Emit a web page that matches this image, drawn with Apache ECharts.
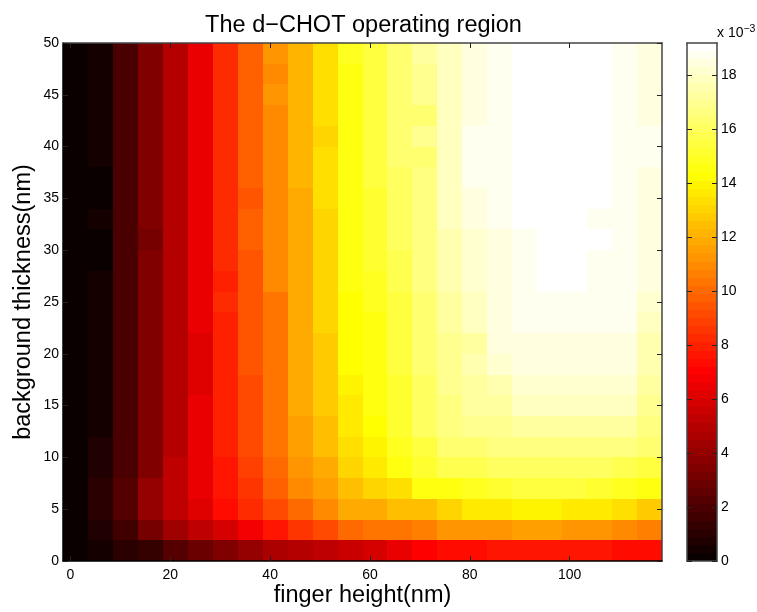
<!DOCTYPE html>
<html><head><meta charset="utf-8">
<style>html,body{margin:0;padding:0;background:#fff}#c{width:757px;height:612px}</style>
<script src="https://cdn.jsdelivr.net/npm/echarts@6/dist/echarts.min.js"></script>
</head><body><div id="c"></div>
<script>
const fingerHeight = [1,6,11,16,21,26,31,36,41,46,51,56,61,66,71,76,81,86,91,96,101,106,111,116];
const backgroundThickness = [1,3,5,7,9,11,13,15,17,19,21,23,25,27,29,31,33,35,37,39,41,43,45,47,49];
const xTicks = [0,20,40,60,80,100];
const yTicks = [0,5,10,15,20,25,30,35,40,45,50];
const barTicks = [0,2,4,6,8,10,12,14,16,18];
const titleText = 'The d\u2212CHOT operating region';
const xName = 'finger height(nm)';
const yName = 'background thickness(nm)';
// values in units of 1e-3, bottom row first
const r00 = [.2,.3,.9,1.4,2.1,2.7,3.3,3.9,4.5,4.8,5.3,5.5,5.8,6.5,6.9,7.2,7.3,7.5,7.6,7.6,7.5,7.5,7.4,7.3];
const r01 = [.1,.7,1.7,3.0,4.3,5.1,5.9,6.6,7.5,8.4,9.0,10.0,10.3,10.4,10.7,11.1,11.3,11.3,11.6,11.6,11.3,11.2,11.0,10.7];
const r02 = [.1,1.1,2.2,3.9,5.1,6.0,7.2,8.1,9.0,10.0,10.8,11.7,11.9,12.3,12.5,12.9,13.6,13.6,13.9,13.9,13.7,13.6,13.3,12.7];
const r03 = [.1,.9,2.1,3.9,5.2,6.3,7.5,8.5,9.6,10.8,11.6,12.5,13.0,13.4,14.4,14.6,14.9,15.0,15.3,15.3,15.3,15.2,14.9,14.5];
const r04 = [.1,.7,2.0,3.4,5.1,6.3,7.6,8.9,9.9,11.2,11.9,13.1,13.6,14.4,15.2,15.8,15.8,15.9,16.0,16.0,16.0,16.0,15.8,15.3];
const r05 = [.1,.6,1.9,3.5,5.0,6.3,7.8,9.0,10.2,11.4,12.3,13.3,14.0,14.7,15.5,16.2,16.3,16.5,16.7,16.7,16.7,16.7,16.7,16.2];
const r06 = [.1,.4,1.8,3.4,5.0,6.3,7.9,9.2,10.4,11.6,12.5,13.5,14.3,15.0,15.9,16.5,17.0,17.0,17.3,17.3,17.3,17.3,17.3,16.6];
const r07 = [.1,.4,1.8,3.4,5.0,6.3,7.9,9.2,10.4,11.7,12.6,13.7,14.4,15.1,16.0,16.6,17.1,17.3,17.7,17.7,17.7,17.7,17.7,16.9];
const r08 = [.1,.4,1.8,3.4,4.8,6.2,7.9,9.2,10.4,11.7,12.8,13.9,14.5,15.2,16.1,16.8,17.2,17.6,18.0,18.0,18.0,18.0,18.0,17.1];
const r09 = [.1,.4,1.8,3.4,4.8,6.2,7.9,9.4,10.4,11.7,12.8,14.2,14.5,15.3,16.2,16.9,17.4,18.2,18.3,18.3,18.3,18.3,18.3,17.4];
const r10 = [.1,.4,1.8,3.4,4.8,6.2,7.9,9.4,10.4,11.7,12.8,14.3,14.6,15.3,16.3,17.0,17.3,18.3,18.5,18.5,18.5,18.5,18.5,17.6];
const r11 = [.1,.4,1.8,3.4,5.0,6.5,7.9,9.4,10.4,11.7,13.0,14.3,14.6,15.4,16.3,17.1,17.7,18.5,18.8,18.8,18.8,18.8,18.8,17.9];
const r12 = [.1,.4,1.8,3.4,5.0,6.5,8.1,9.4,10.4,11.9,13.0,14.3,14.7,15.5,16.4,17.2,17.8,18.5,18.8,18.8,18.8,18.8,18.8,18.2];
const r13 = [.1,.4,1.8,3.4,5.0,6.5,7.8,9.4,10.9,11.9,13.0,14.4,14.9,15.6,16.5,17.4,18.1,18.5,18.8,19.1,19.1,18.8,18.8,18.4];
const r14 = [.1,.2,1.8,3.4,5.0,6.5,8.1,9.4,10.9,11.9,13.0,14.4,15.0,15.7,16.5,17.5,18.2,18.5,18.8,19.1,19.1,18.8,18.8,18.4];
const r15 = [.1,.2,1.8,3.1,5.0,6.5,8.1,9.6,10.9,11.9,13.0,14.4,15.1,16.0,16.6,17.5,18.2,18.5,18.8,19.1,19.1,19.1,18.8,18.4];
const r16 = [.1,.4,1.8,3.4,5.0,6.5,8.1,9.6,10.9,11.9,13.0,14.4,15.2,16.0,16.6,17.7,18.3,18.8,19.1,19.1,19.1,18.8,18.8,18.4];
const r17 = [.1,.2,1.8,3.4,5.0,6.5,8.1,9.3,10.9,11.9,13.3,14.4,15.2,16.0,16.6,17.7,18.3,18.8,19.1,19.1,19.1,19.1,18.8,18.4];
const r18 = [.1,.2,1.8,3.4,5.0,6.5,8.1,9.6,10.9,12.2,13.3,14.4,15.3,16.1,16.5,17.7,18.6,18.8,19.1,19.1,19.1,19.1,18.8,18.4];
const r19 = [.1,.4,1.9,3.4,5.0,6.5,8.1,9.6,10.9,12.2,13.3,14.4,15.3,16.2,16.4,17.8,18.6,18.8,19.1,19.1,19.1,19.1,18.8,18.6];
const r20 = [.1,.4,1.9,3.4,5.0,6.5,8.1,9.6,10.9,12.2,13.0,14.4,15.3,16.2,16.8,17.8,18.6,18.8,19.1,19.1,19.1,19.1,18.8,18.6];
const r21 = [.1,.4,1.9,3.4,5.0,6.5,8.1,9.6,10.9,12.2,13.4,14.4,15.3,16.2,16.4,17.8,18.4,18.8,19.1,19.1,19.1,19.1,18.8,18.4];
const r22 = [.1,.4,1.9,3.4,5.0,6.5,8.1,9.6,11.1,12.2,13.4,14.4,15.3,16.2,16.9,17.8,18.4,18.8,19.1,19.1,19.1,19.1,18.8,18.4];
const r23 = [.1,.4,1.9,3.4,5.0,6.5,8.1,9.6,10.8,12.2,13.4,14.4,15.3,16.2,17.0,17.8,18.4,18.8,19.1,19.1,19.1,19.1,18.8,18.4];
const r24 = [.1,.4,1.9,3.4,5.0,6.5,8.1,9.6,11.1,12.2,13.4,14.7,15.3,16.2,17.1,17.8,18.4,18.8,19.1,19.1,19.1,19.1,18.8,18.3];
const rows = [r00,r01,r02,r03,r04,r05,r06,r07,r08,r09,r10,r11,r12,r13,r14,r15,r16,r17,r18,r19,r20,r21,r22,r23,r24];

const cMax = 19.2, nLevels = 64;
function clamp(v){return Math.max(0,Math.min(1,v));}
function hot(v){
  const i = Math.min(nLevels, Math.floor(v/cMax*nLevels)+1);
  const r = clamp(i/24), g = clamp((i-24)/24), b = clamp((i-48)/16);
  return 'rgb('+Math.round(r*255)+','+Math.round(g*255)+','+Math.round(b*255)+')';
}
const cells = [];
rows.forEach((row,j)=>row.forEach((v,i)=>cells.push([fingerHeight[i],backgroundThickness[j],v])));
const levels = [];
for(let k=0;k<nLevels;k++) levels.push([(k)*cMax/nLevels,(k+1)*cMax/nLevels]);

const FONT='"Liberation Sans", Arial, sans-serif';
const lineC='#444';
function rect(api,x0,y0,x1,y1,fill){
  const a=api.coord([x0,y0]), b=api.coord([x1,y1]);
  const X0=Math.round(a[0]),X1=Math.round(b[0]),Y0=Math.round(a[1]),Y1=Math.round(b[1]);
  return {type:'rect',shape:{x:X0,y:Y1,width:X1-X0,height:Y0-Y1},style:{fill:fill,stroke:null},silent:true};
}
const tickStyle={show:true,inside:true,length:5,lineStyle:{color:'#222',width:1}};
const LS=14;
const chart=echarts.init(document.getElementById('c'),null,{renderer:'canvas'});
chart.setOption({
  animation:false,
  backgroundColor:'#fff',
  title:{text:titleText,left:358.5,top:9,textAlign:'center',textStyle:{fontFamily:FONT,fontSize:23.5,fontWeight:'normal',color:'#000'}},
  graphic:[{type:'text',left:717,top:24,z:10,style:{rich:{a:{fontFamily:FONT,fontSize:LS,fill:'#000'},s:{fontFamily:FONT,fontSize:10.5,fill:'#000',verticalAlign:'top',padding:[0,0,8,0]}},text:'{a|x 10}{s|\u22123}'}}],
  grid:[{left:63,top:43,width:599,height:518,outerBoundsMode:'none'},{left:687,top:43,width:30,height:518,outerBoundsMode:'none'}],
  xAxis:[
    {gridIndex:0,z:5,type:'value',min:-1.5,max:118.5,position:'bottom',splitLine:{show:false},
     axisLine:{show:true,onZero:false,lineStyle:{color:'#000',width:1.5}},axisTick:Object.assign({customValues:xTicks},tickStyle),
     axisLabel:{customValues:xTicks,color:'#000',fontFamily:FONT,fontSize:LS,margin:7},
     name:xName,nameLocation:'middle',nameMoveOverlap:false,nameGap:23,nameTextStyle:{fontFamily:FONT,fontSize:23.5,color:'#000'}},
    {gridIndex:0,z:5,type:'value',min:-1.5,max:118.5,position:'top',splitLine:{show:false},
     axisLine:{show:true,onZero:false,lineStyle:{color:lineC,width:1.5}},axisTick:Object.assign({customValues:xTicks},tickStyle),axisLabel:{show:false}},
    {gridIndex:1,z:5,type:'value',min:0,max:1,position:'bottom',splitLine:{show:false},axisLine:{show:true,onZero:false,lineStyle:{color:lineC,width:1.5}},axisTick:{show:false},axisLabel:{show:false}},
    {gridIndex:1,z:5,type:'value',min:0,max:1,position:'top',splitLine:{show:false},axisLine:{show:true,onZero:false,lineStyle:{color:lineC,width:1.5}},axisTick:{show:false},axisLabel:{show:false}}
  ],
  yAxis:[
    {gridIndex:0,z:5,type:'value',min:0,max:50,position:'left',splitLine:{show:false},
     axisLine:{show:true,onZero:false,lineStyle:{color:'#000',width:1.5}},axisTick:Object.assign({customValues:yTicks},tickStyle),
     axisLabel:{customValues:yTicks,color:'#000',fontFamily:FONT,fontSize:LS,margin:4},
     name:yName,nameLocation:'middle',nameMoveOverlap:false,nameGap:27,nameTextStyle:{fontFamily:FONT,fontSize:23.5,color:'#000'}},
    {gridIndex:0,z:5,type:'value',min:0,max:50,position:'right',splitLine:{show:false},
     axisLine:{show:true,onZero:false,lineStyle:{color:lineC,width:1.5}},axisTick:Object.assign({customValues:yTicks},tickStyle),axisLabel:{show:false}},
    {gridIndex:1,z:5,type:'value',min:0,max:cMax,position:'right',splitLine:{show:false},
     axisLine:{show:true,onZero:false,lineStyle:{color:lineC,width:1.5}},axisTick:Object.assign({customValues:barTicks},tickStyle),
     axisLabel:{customValues:barTicks,color:'#000',fontFamily:FONT,fontSize:LS,margin:4}},
    {gridIndex:1,z:5,type:'value',min:0,max:cMax,position:'left',splitLine:{show:false},
     axisLine:{show:true,onZero:false,lineStyle:{color:lineC,width:1.5}},axisTick:Object.assign({customValues:barTicks},tickStyle),axisLabel:{show:false}}
  ],
  series:[
    {type:'custom',xAxisIndex:0,yAxisIndex:0,data:cells,silent:true,clip:true,encode:{x:0,y:1},z:1,
     renderItem:(p,api)=>{const x=api.value(0),y=api.value(1),v=api.value(2);return rect(api,x-2.5,y-1,x+2.5,y+1,hot(v));}},
    {type:'custom',xAxisIndex:2,yAxisIndex:2,data:levels,silent:true,clip:true,encode:{y:[0,1]},z:1,
     renderItem:(p,api)=>{const a=api.value(0),b=api.value(1);return rect(api,0,a,1,b,hot((a+b)/2));}}
  ]
});
</script></body></html>
